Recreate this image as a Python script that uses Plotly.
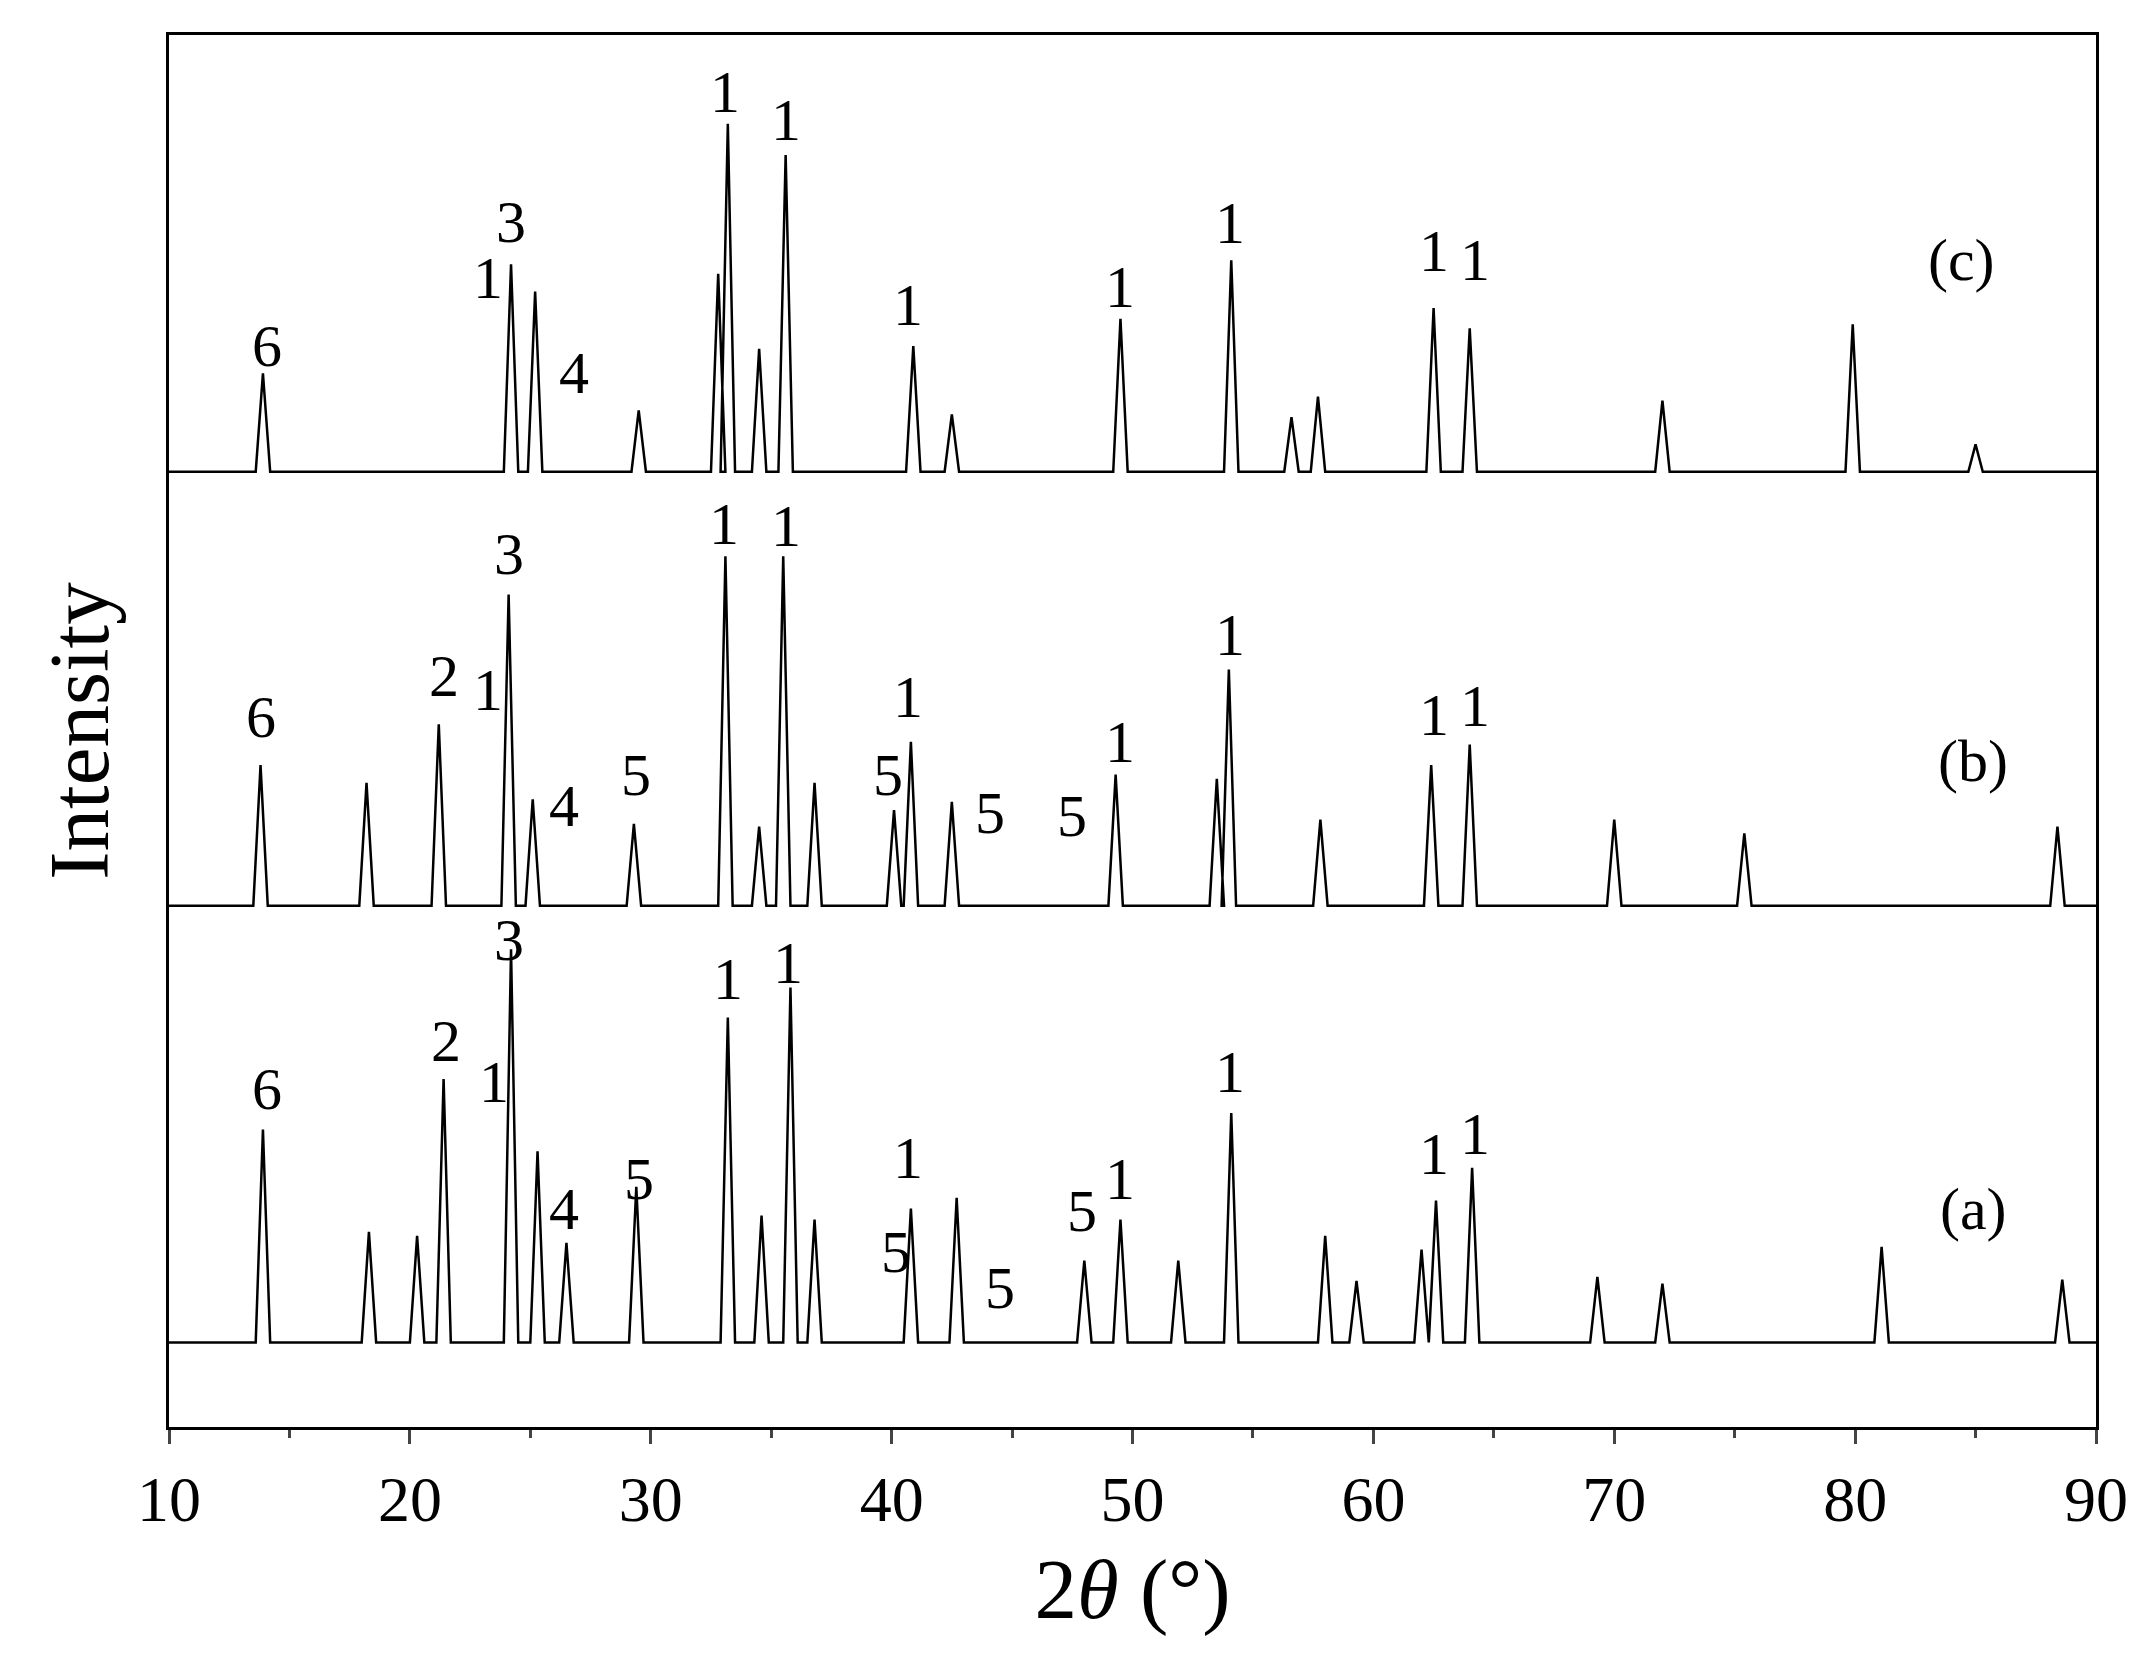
"""XRD patterns (a), (b), (c) drawn as peak sticks with phase labels."""

import plotly.graph_objects as go

# peak positions (2theta, deg) and heights above each baseline
peaks_a = [13.9, 18.3, 20.3, 21.4, 24.2, 25.3, 26.5, 29.4, 33.2, 34.6, 35.8, 36.8,
           40.8, 42.7, 48.0, 49.5, 51.9, 54.1, 58.0, 59.3, 62.0, 62.6, 64.1, 69.3,
           72.0, 81.1, 88.6]
heights_a = [156, 81, 78, 193, 288, 140, 73, 114, 238, 93, 260, 90,
             98, 106, 60, 90, 60, 168, 78, 45, 68, 104, 128, 48,
             43, 70, 46]
peaks_b = [13.8, 18.2, 21.2, 24.1, 25.1, 29.3, 33.1, 34.5, 35.5, 36.8, 40.1, 40.8,
           42.5, 49.3, 53.5, 54.0, 57.8, 62.4, 64.0, 70.0, 75.4, 88.4]
heights_b = [103, 90, 133, 228, 78, 60, 256, 58, 256, 90, 70, 120,
             76, 96, 93, 173, 63, 103, 118, 63, 53, 58]
peaks_c = [13.9, 24.2, 25.2, 29.5, 32.8, 33.2, 34.5, 35.6, 40.9, 42.5, 49.5, 54.1,
           56.6, 57.7, 62.5, 64.0, 72.0, 79.9, 85.0]
heights_c = [72, 152, 132, 45, 145, 255, 90, 232, 92, 42, 112, 155,
             40, 55, 120, 105, 52, 108, 20]
baselines = {"a": 62, "b": 382, "c": 700}

labels_a = ["6", "2", "1", "3", "4", "5", "1", "1", "5", "1", "5", "5", "1", "1", "1", "1", "(a)"]
lx_a = [14.08, 21.5, 23.5, 24.1, 26.4, 29.5, 33.2, 35.7, 40.2, 40.7, 44.5, 47.9, 49.5, 54.05, 62.5, 64.2, 84.9]
ly_a = [248, 283, 253, 357, 160, 182, 328, 340, 128, 197, 102, 158, 182, 260, 200, 215, 160]
labels_b = ["6", "2", "1", "3", "4", "5", "1", "1", "5", "1", "5", "5", "1", "1", "1", "1", "(b)"]
lx_b = [13.8, 21.4, 23.25, 24.1, 26.4, 29.4, 33.05, 35.6, 39.85, 40.7, 44.1, 47.5, 49.5, 54.05, 62.5, 64.2, 84.9]
ly_b = [520, 550, 540, 640, 455, 478, 662, 660, 478, 535, 450, 448, 502, 580, 522, 528, 488]
labels_c = ["6", "1", "3", "4", "1", "1", "1", "1", "1", "1", "1", "(c)"]
lx_c = [14.08, 23.25, 24.2, 26.8, 33.1, 35.6, 40.7, 49.5, 54.05, 62.5, 64.2, 84.4]
ly_c = [792, 842, 883, 772, 978, 958, 822, 835, 882, 862, 855, 855]


def stick_trace(peaks, heights, base):
    xs, ys = [10], [base]
    for p, h in sorted(zip(peaks, heights)):
        xs += [p - 0.3, p, p + 0.3]
        ys += [base, base + h, base]
    xs.append(90)
    ys.append(base)
    return go.Scatter(x=xs, y=ys, mode="lines", line={"color": "black", "width": 2.5},
                      showlegend=False, hoverinfo="skip")


fig = go.Figure()
fig.add_trace(stick_trace(peaks_a, heights_a, baselines["a"]))
fig.add_trace(stick_trace(peaks_b, heights_b, baselines["b"]))
fig.add_trace(stick_trace(peaks_c, heights_c, baselines["c"]))

for labels, lx, ly in ((labels_a, lx_a, ly_a), (labels_b, lx_b, ly_b), (labels_c, lx_c, ly_c)):
    for text, x, y in zip(labels, lx, ly):
        fig.add_annotation(x=x, y=y, text=text, showarrow=False,
                           font={"size": 60, "color": "black"})

fig.update_xaxes(range=[10, 90], dtick=10, ticks="outside", ticklen=14, tickwidth=3,
                 tickfont={"size": 64},
                 minor={"dtick": 5, "ticks": "outside", "ticklen": 8, "tickwidth": 3},
                 showline=True, linewidth=3, linecolor="black", mirror=True,
                 showgrid=False, zeroline=False,
                 title={"text": "2<i>θ</i> (°)", "font": {"size": 85}, "standoff": 25})
fig.update_yaxes(range=[0, 1020], showticklabels=False, ticks="",
                 showline=True, linewidth=3, linecolor="black", mirror=True,
                 showgrid=False, zeroline=False,
                 title={"text": "Intensity", "font": {"size": 85}, "standoff": 30})
fig.update_layout(width=2139, height=1660, template="plotly_white",
                  font={"family": "Liberation Serif", "size": 60, "color": "black"},
                  margin={"l": 161, "r": 51, "t": 27, "b": 241},
                  plot_bgcolor="white", paper_bgcolor="white")
fig.write_html("out.html")
